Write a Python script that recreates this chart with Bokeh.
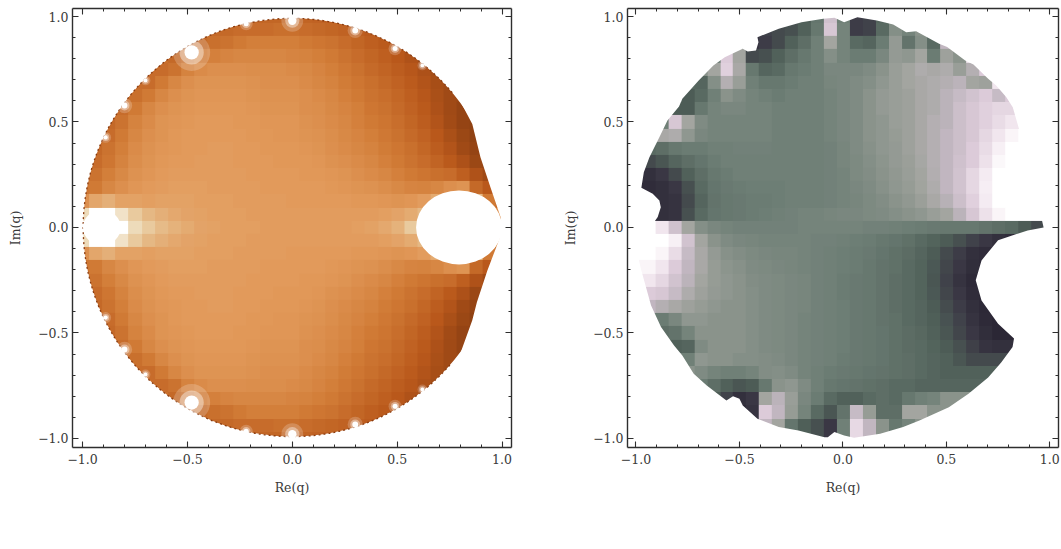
import numpy as np
from bokeh.embed import file_html
from bokeh.resources import INLINE
from bokeh.layouts import row
from bokeh.models import FixedTicker, LinearAxis, Range1d, LinearColorMapper, Label
from bokeh.plotting import figure

tick_values = [-1.0, -0.5, 0.0, 0.5, 1.0]
tick_labels = ["\u22121.0", "\u22120.5", "0.0", "0.5", "1.0"]
minor_values = [-0.9, -0.8, -0.7, -0.6, -0.4, -0.3, -0.2, -0.1, 0.1, 0.2, 0.3, 0.4, 0.6, 0.7, 0.8, 0.9]
x_label = "Re(q)"
y_label = "Im(q)"

# panel (a): upper half of the picture, y = 1 .. 0, x = -1 .. 1 (the picture is mirrored in the real axis)
field_a_top = [
[38,38,38,38,38,38,38,38,38,38,38,38,38,38,38,38,38,37,36,35,34,33,32,30,28,26,24,22,20,18,16,16,16],
[40,40,40,40,40,40,40,40,40,40,40,40,42,42,42,44,44,42,40,38,36,34,32,30,28,26,24,22,20,18,16,16,16],
[42,42,42,42,42,42,42,42,42,40,44,46,50,52,52,52,52,50,48,46,42,38,34,31,28,26,24,22,20,18,16,16,16],
[44,44,44,44,44,44,44,40,44,50,53,55,56,56,56,56,55,54,52,50,46,42,38,34,30,26,24,22,20,18,16,16,16],
[46,46,46,46,46,42,42,46,54,58,60,60,60,59,59,59,58,57,55,52,49,45,41,37,33,29,25,22,20,18,16,16,16],
[48,48,48,48,42,42,50,56,60,62,62,62,62,61,60,60,60,58,56,54,51,48,44,40,36,32,27,23,20,18,16,16,16],
[50,50,50,42,44,50,56,60,62,63,63,63,63,62,61,61,61,60,58,56,53,50,46,43,39,34,29,24,20,18,16,16,16],
[50,50,42,42,50,56,60,62,63,64,64,64,64,63,62,62,62,60,59,57,55,52,48,45,41,36,31,25,20,16,14,14,14],
[48,42,40,46,54,58,62,63,64,65,65,65,64,64,63,63,63,61,60,58,56,53,50,47,43,38,33,27,21,16,14,14,14],
[44,40,42,50,56,60,62,64,65,65,65,65,65,64,64,63,63,62,61,59,57,55,52,49,45,41,36,30,24,18,14,14,14],
[42,40,46,52,58,61,63,64,65,65,66,66,65,65,64,64,64,63,62,60,58,56,54,51,48,44,39,33,27,20,16,14,14],
[42,42,48,54,59,62,64,65,65,66,66,66,65,65,65,64,64,64,63,61,60,58,56,53,50,46,42,37,31,25,18,16,16],
[44,46,52,57,61,63,65,66,66,66,66,66,66,65,65,65,65,64,64,63,62,60,58,56,53,50,47,44,42,34,26,20,20],
[48,50,56,60,63,65,66,67,67,67,66,66,66,66,65,65,65,65,65,64,63,62,61,59,57,55,54,56,60,62,40,30,30],
[60,70,74,68,68,67,68,68,68,67,67,67,66,66,66,66,65,65,65,65,65,64,64,63,62,63,66,72,90,92,78,50,40],
[90,100,100,92,84,78,74,71,69,68,67,67,67,66,66,66,66,66,66,66,66,66,66,67,69,72,78,92,100,100,100,80,60],
[100,100,100,100,90,84,79,75,72,69,68,67,67,67,66,66,66,66,66,66,66,67,68,71,75,84,92,100,100,100,100,100,100],
]

# panel (b): y = 1 .. -1, x = -1 .. 1
field_b = [
[20,20,20,20,20,20,20,20,20,20,20,20,20,25,35,75,40,14,16,28,45,40,50,60,70,80,90,90,90,90,90,90,90],
[20,20,20,20,20,20,20,20,20,20,16,18,20,26,36,78,42,14,16,30,48,42,50,60,70,80,90,90,90,90,90,90,90],
[30,30,30,30,30,30,30,30,20,10,14,18,26,32,40,60,42,30,28,38,54,34,48,30,70,80,90,90,90,90,90,90,90],
[40,40,40,40,40,40,40,80,60,18,20,26,32,36,40,48,42,38,38,44,54,52,60,38,58,50,90,90,90,90,90,90,90],
[50,50,50,50,50,50,60,82,62,36,28,30,36,38,40,44,44,44,46,50,56,60,64,62,64,56,66,80,90,90,90,90,90],
[50,50,50,50,30,28,48,66,56,40,36,36,38,40,40,43,44,46,48,52,56,60,62,64,66,68,60,58,90,90,90,90,90],
[40,40,40,40,24,30,40,50,46,42,40,38,40,40,40,42,44,46,50,54,56,58,62,64,68,72,76,80,72,80,90,90,90],
[40,40,40,24,24,36,42,44,44,42,42,40,40,40,40,42,44,46,50,54,56,58,62,64,68,74,78,82,84,84,90,90,90],
[40,40,40,78,60,46,42,42,42,42,42,40,40,40,40,42,44,46,50,52,56,58,62,66,68,74,78,82,86,90,90,90,90],
[50,50,62,64,52,44,42,42,42,42,42,40,40,40,40,42,44,46,50,52,55,58,62,66,70,74,78,84,90,96,100,100,100],
[30,30,32,36,38,38,40,40,41,41,41,40,40,40,40,41,43,46,49,52,54,58,62,66,70,74,80,86,94,100,100,100,100],
[18,18,22,28,32,35,38,40,40,40,40,40,40,40,40,41,43,45,48,51,54,57,61,66,70,75,80,88,97,100,100,100,100],
[8,8,12,18,26,32,36,38,40,40,40,40,40,40,40,41,42,45,47,50,53,56,60,65,70,76,84,92,100,100,100,100,100],
[6,6,8,12,20,30,35,37,38,39,39,39,40,40,40,41,42,44,46,49,52,55,59,64,70,76,84,93,100,100,100,100,100],
[6,6,8,10,18,28,34,36,37,38,38,39,40,40,40,41,42,43,45,47,50,53,57,62,67,74,82,92,100,100,100,100,100],
[8,8,8,10,20,30,35,36,37,38,39,40,41,42,42,43,44,44,45,46,48,50,52,56,60,68,78,88,96,100,100,100,100],
[100,100,90,75,60,48,44,42,41,41,41,41,41,42,42,42,42,42,41,41,40,39,38,37,36,36,36,34,32,30,24,18,14],
[100,100,100,94,76,60,50,46,44,43,42,42,42,42,41,41,40,39,38,36,35,33,30,27,24,20,16,12,8,6,6,6,6],
[100,100,96,86,72,62,54,49,47,45,44,43,43,42,41,40,39,38,37,35,33,31,28,24,18,14,8,6,6,6,6,6,6],
[96,96,90,80,70,62,55,51,49,46,45,44,43,42,41,40,39,38,36,34,33,30,27,23,17,12,7,5,5,5,5,5,5],
[90,90,84,76,68,60,55,52,50,47,46,45,44,43,41,40,38,37,36,34,32,30,27,22,16,10,5,5,5,5,5,5,5],
[80,80,78,72,64,58,54,52,50,48,46,45,44,43,41,40,38,37,36,34,32,30,27,23,17,12,6,4,4,4,4,4,4],
[70,70,66,62,58,55,52,50,50,48,46,45,44,43,41,40,39,37,36,34,32,30,28,24,19,14,8,4,3,3,3,3,3],
[40,40,38,44,52,52,50,50,50,48,46,45,44,42,41,40,39,37,36,34,33,30,28,25,21,16,10,5,3,3,3,3,3],
[30,30,32,34,42,50,50,50,50,48,46,45,44,42,41,40,39,37,36,35,33,31,29,26,22,17,12,7,3,3,3,3,3],
[30,30,30,26,28,46,50,50,50,48,46,45,44,42,41,40,39,37,36,35,33,31,30,27,24,20,15,10,8,8,8,8,8],
[40,40,40,40,40,52,50,50,48,48,47,46,44,42,41,40,38,37,36,35,33,32,30,28,26,22,18,18,18,18,18,18,18],
[50,50,50,50,50,46,42,40,40,42,47,48,46,42,40,38,37,36,35,34,33,32,30,28,26,26,26,26,26,26,26,26,26],
[40,40,40,40,40,38,32,26,22,24,36,50,52,46,40,36,35,34,33,32,30,30,28,28,28,28,28,28,28,28,28,28,28],
[35,35,35,35,35,30,24,16,8,12,60,68,56,44,38,30,26,26,30,32,30,36,40,42,50,50,50,50,50,50,50,50,50],
[30,30,30,30,30,20,12,8,4,10,80,70,55,42,30,22,34,72,55,32,32,60,60,50,50,50,50,50,50,50,50,50,50],
[10,10,10,10,10,10,10,10,10,10,70,60,35,25,20,12,40,85,70,50,36,42,50,50,50,50,50,50,50,50,50,50,50],
[10,10,10,10,10,10,10,10,10,10,70,60,35,25,20,12,40,85,70,50,36,42,50,50,50,50,50,50,50,50,50,50,50],
]

level_stops = [0, 30, 50, 65, 80, 90, 100]
colour_a = ["#6e2f0c", "#b9581b", "#d07a35", "#e29a5b", "#e6bd8a", "#eddab9", "#ffffff"]
level_stops_b = [0, 12, 25, 38, 50, 60, 70, 80, 90, 100]
colour_b = ["#262230", "#3a3744", "#4f5f58", "#6b7c73", "#8a938b", "#a3a5a0", "#c0b6bf", "#dccbd9", "#f1e6ee", "#ffffff"]

# white holes of panel (a)
hole_x = [0.795, -0.908]
hole_y = [0.0, 0.0]
hole_w = [0.41, 0.18]
hole_h = [0.35, 0.168]

# bright spots on the rim of panel (a)
spot_x = [-0.48, 0.0, 0.30, 0.49, 0.62, -0.22, -0.70, -0.80, -0.89]
spot_y = [0.83, 0.98, 0.934, 0.848, 0.768, 0.966, 0.697, 0.578, 0.427]
spot_r = [0.034, 0.02, 0.014, 0.012, 0.009, 0.012, 0.009, 0.014, 0.010]

# cut-out to the right of panel (a)
cut_a_upper_x = [0.80, 0.858, 0.897, 0.945, 0.993, 1.0, 1.08, 1.08]
cut_a_upper_y = [0.60, 0.49, 0.333, 0.19, 0.05, 0.0, 0.0, 0.62]
cut_a_lower_x = [0.80, 0.858, 0.88, 0.93, 0.985, 1.0, 1.08, 1.08]
cut_a_lower_y = [-0.60, -0.44, -0.354, -0.204, -0.06, 0.0, 0.0, -0.62]

# boundary of the coloured region of panel (b)
edge_b_x = [-0.982,-0.927,-0.895,-0.88,-0.887,-0.919,-0.974,-0.962,-0.935,-0.887,-0.848,-0.792,-0.776,-0.697,-0.626,-0.571,-0.484,-0.46,-0.42,-0.408,-0.413,-0.31,-0.2,-0.095,
 -0.041,0.006,0.07,0.164,0.243,0.306,0.354,0.465,0.504,0.591,0.631,0.702,0.741,0.789,0.821,0.90,0.97,0.893,0.75,0.67,0.642,0.67,0.75,0.827,0.82,0.765,0.702,0.607,0.512,0.37,0.291,0.18,0.054,0.006,-0.041,-0.073,
 -0.089,-0.215,-0.31,-0.413,-0.484,-0.5,-0.531,-0.563,-0.658,-0.721,-0.776,-0.816,-0.879,-0.927,-0.974,-1.0]
edge_b_y = [0.0,0.005,0.05,0.096,0.128,0.16,0.188,0.262,0.333,0.428,0.507,0.573,0.61,0.697,0.768,0.807,0.847,0.834,0.839,0.878,0.902,0.942,0.973,0.989,
 0.994,0.973,0.997,0.981,0.962,0.926,0.93,0.871,0.855,0.791,0.773,0.705,0.673,0.618,0.57,0.30,0.0,-0.014,-0.06,-0.156,-0.25,-0.346,-0.456,-0.526,-0.567,-0.64,-0.711,-0.788,-0.852,-0.915,-0.946,-0.978,-0.997,-0.986,-0.97,-0.995,
 -0.994,-0.962,-0.946,-0.907,-0.844,-0.812,-0.80,-0.82,-0.749,-0.693,-0.607,-0.559,-0.472,-0.37,-0.204,-0.10]

caption_a = "(a)"
caption_b = "(b)"
FONT = "DejaVu Serif"
INK = "#3a3a3a"


def palette(stops, colours):
    rgb = np.array([[int(c[i:i + 2], 16) for i in (1, 3, 5)] for c in colours])
    lev = np.linspace(0, 100, 256)
    chan = [np.interp(lev, stops, rgb[:, k]).round().astype(int) for k in range(3)]
    return ["#%02x%02x%02x" % (chan[0][i], chan[1][i], chan[2][i]) for i in range(256)]


def panel(width, left, right, xr, field, pal, caption, cap_x):
    p = figure(width=width, height=549, output_backend="svg", toolbar_location=None,
               x_range=Range1d(*xr), y_range=Range1d(-1.043, 1.038),
               min_border_left=left, min_border_right=right, min_border_top=8, min_border_bottom=102,
               background_fill_color="white", border_fill_color="white", outline_line_color=None)
    p.grid.visible = False
    arr = np.array(field, dtype=float)[::-1]
    n = arr.shape[0]
    step = 2.0 / (n - 1)
    p.image(image=[arr], x=-1 - step / 2, y=-1 - step / 2, dw=2 + step, dh=2 + step,
            color_mapper=LinearColorMapper(palette=pal, low=0, high=100))
    for ax in (p.xaxis[0], p.yaxis[0]):
        ax.ticker = FixedTicker(ticks=tick_values, minor_ticks=minor_values)
        ax.major_label_overrides = dict(zip(tick_values, tick_labels))
        ax.major_label_text_font = FONT
        ax.major_label_text_font_size = "12.5px"
        ax.major_label_text_color = INK
        ax.axis_label_text_font = FONT
        ax.axis_label_text_font_size = "12.5px"
        ax.axis_label_text_font_style = "normal"
        ax.axis_label_text_color = INK
    p.xaxis[0].axis_label = x_label
    p.yaxis[0].axis_label = y_label
    p.xaxis[0].major_label_standoff = 6
    p.yaxis[0].major_label_standoff = 4
    p.xaxis[0].axis_label_standoff = 13
    p.yaxis[0].axis_label_standoff = 12
    for side in ("above", "right"):
        ax = LinearAxis(ticker=FixedTicker(ticks=tick_values, minor_ticks=minor_values),
                        major_label_overrides={t: "" for t in tick_values},
                        major_label_standoff=0, major_label_text_font_size="1px")
        p.add_layout(ax, side)
    for ax in p.axis:
        ax.axis_line_color = "#2e2e2e"
        ax.axis_line_width = 1.4
        ax.major_tick_line_color = "#2e2e2e"
        ax.minor_tick_line_color = "#2e2e2e"
        ax.major_tick_line_width = 1.1
        ax.minor_tick_line_width = 1.0
        ax.major_tick_in = 6
        ax.major_tick_out = 0
        ax.minor_tick_in = 3
        ax.minor_tick_out = 0
    p.add_layout(Label(x=cap_x, y=-1.46, text=caption, text_align="center", text_baseline="middle",
                       text_font="Liberation Serif", text_font_size="24px", text_color="#2a2a2a"))
    return p


pa = panel(560, 72, 49, (-1.048, 1.045), field_a_top + field_a_top[-2::-1],
           palette(level_stops, colour_a), caption_a, -0.14)
pa.annulus(x=0, y=0, inner_radius=0.997, outer_radius=1.7, fill_color="white", line_color=None)
pa.arc(x=0, y=0, radius=0.997, start_angle=0.7, end_angle=5.58, line_color="#8a3c10", line_width=1.3, line_dash="2 3")
pa.patch(cut_a_upper_x, cut_a_upper_y, fill_color="white", line_color=None)
pa.patch(cut_a_lower_x, cut_a_lower_y, fill_color="white", line_color=None)
pa.ellipse(hole_x, hole_y, width=hole_w, height=hole_h, fill_color="white", line_color=None)
for scale, alpha in ((2.6, 0.2), (1.7, 0.4), (1.0, 1.0)):
    for sign in (1, -1):
        pa.circle(spot_x, [sign * v for v in spot_y], radius=[scale * r for r in spot_r],
                  fill_color="white", fill_alpha=alpha, line_color=None)

pb = panel(501, 59, 3, (-1.041, 1.042), field_b, palette(level_stops_b, colour_b), caption_b, -0.146)
box_x = [-1.2, 1.2, 1.2, -1.2]
box_y = [-1.2, -1.2, 1.2, 1.2]
pb.multi_polygons(xs=[[[box_x, edge_b_x]]], ys=[[[box_y, edge_b_y]]], fill_color="white", line_color=None)

layout = row(pa, pb, spacing=0, styles={"position": "absolute", "left": "0px", "top": "0px"})
open("out.html", "w").write(file_html(layout, INLINE))
